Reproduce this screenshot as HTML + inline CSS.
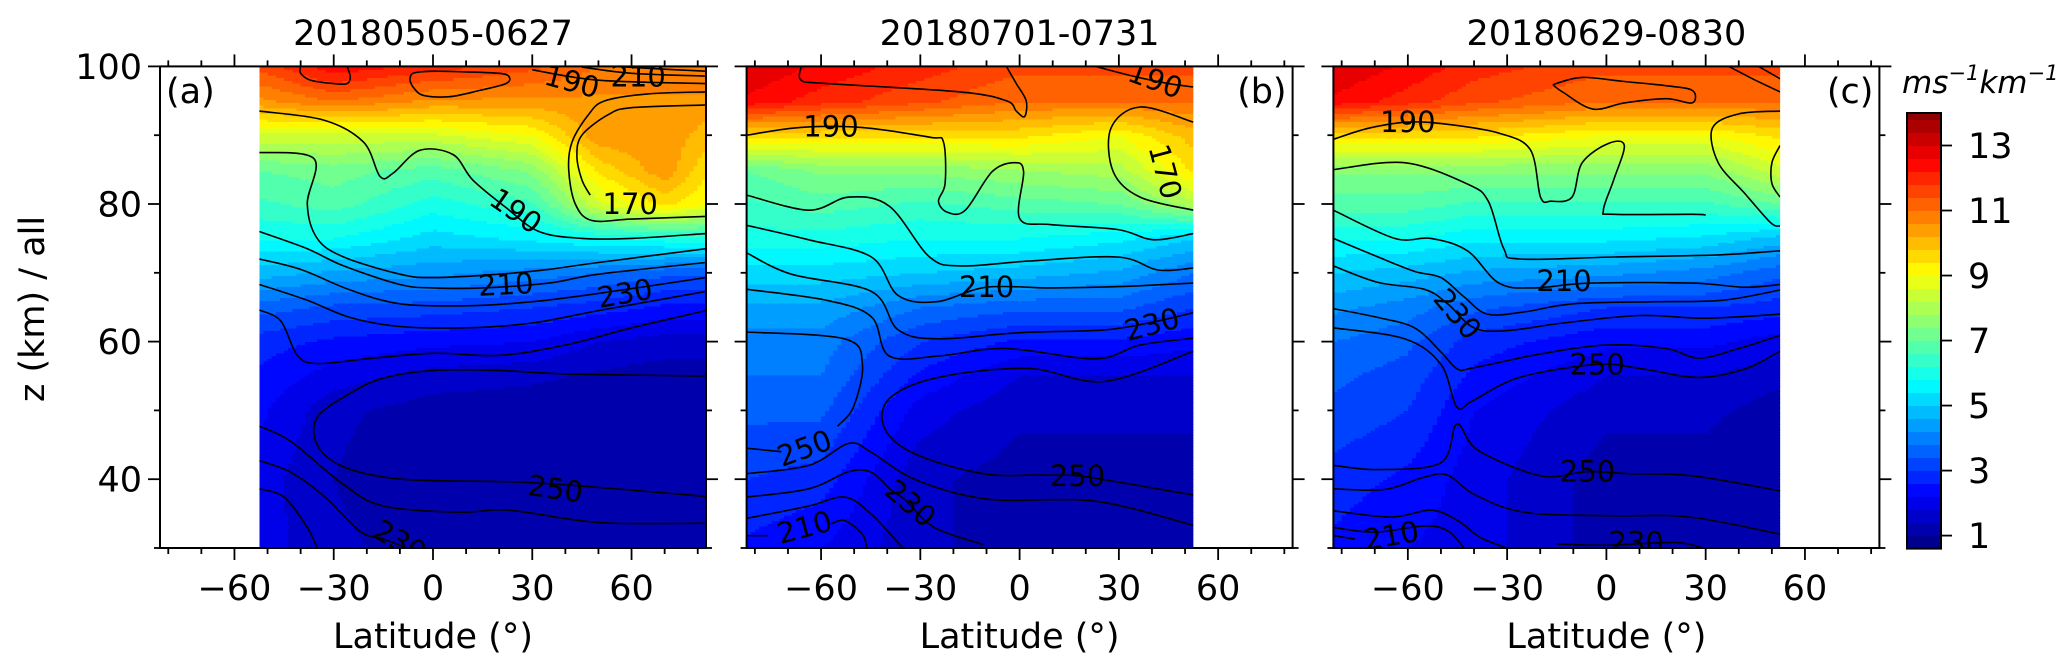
<!DOCTYPE html>
<html><head><meta charset="utf-8"><style>
body{margin:0;background:#fff}
svg{display:block;font-family:"DejaVu Sans","Liberation Sans",sans-serif}
</style></head><body>
<svg id="fig" xmlns="http://www.w3.org/2000/svg" width="2067" height="672" viewBox="0 0 2067 672">
<rect width="2067" height="672" fill="#fff"/>
<text x="0" y="0" transform="translate(44,309) rotate(-90)" text-anchor="middle" font-size="35">z (km) / all</text>
<g id="panels"></g>
<g id="cbar"></g>
<text x="1902" y="93" font-size="31" font-style="italic">ms<tspan font-size="21" dy="-13">−1</tspan><tspan dy="13">km</tspan><tspan font-size="21" dy="-13">−1</tspan></text>
</svg>
<script>
// ---------- data ----------
const altNodes = [30,40,50,55,60,65,70,75,80,85,90,95,100];
const latNodesA = [-52.5,-30,0,30,50,70,82.5];
const fieldA = [
 [2.0,2.0,2.3,2.5,2.8,3.6,4.8,5.8,6.5,7.0,8.5,10.5,11.5],
 [1.5,1.4,1.5,2.0,2.5,3.3,4.5,5.8,6.8,7.2,8.5,11,12.5],
 [1.2,1.0,1.2,1.6,2.3,3.2,4.3,5.2,6.0,6.8,8.5,10.5,12],
 [1.2,1.0,1.1,1.5,2.2,3.0,4.0,5.5,6.5,7.5,9,10.5,11.5],
 [1.0,1.0,1.0,1.3,1.8,2.8,3.8,5.8,8.5,9.5,10.5,10.5,11],
 [1.0,1.0,1.0,1.2,1.6,2.5,3.5,6.0,9.5,10.5,10.5,10.5,11],
 [1.0,1.0,1.0,1.2,1.6,2.5,3.5,6.0,9,9.5,10,10.5,11]];
const latNodesB = [-82.5,-60,-30,0,30,52.5];
const fieldB = [
 [2.5,3,3.5,3.8,4.0,4.5,5.2,6,6.5,7,9.5,12.5,13],
 [2.2,2.8,3.5,3.8,4,4.5,5.2,6,6.8,7.5,9.5,12,12.5],
 [1.5,1.5,2,2.5,3,3.8,5,5.8,6.5,7.5,9.5,11.5,12],
 [1.2,1.2,1.5,1.8,2.5,3.5,4.8,5.8,6.8,7.8,9.5,11,11.5],
 [1.2,1.2,1.5,1.8,2.5,3.5,4.5,5.5,7,8,9,11,11.5],
 [1,1.2,1.5,1.8,2.3,3,3.8,5,8,9.5,10,11,11.5]];
const latNodesC = [-82.5,-60,-40,0,30,52.5];
const fieldC = [
 [2.5,2.8,3.3,3.5,3.8,4.3,5,5.8,6.8,7.5,9.5,12.5,13],
 [2.2,2.5,3,3.2,3.5,4,4.8,5.8,6.8,7.5,9.5,12,12.5],
 [2,2,2.2,2.5,2.8,3.5,4.5,5.5,6.5,7.5,9.5,11.5,12],
 [1.2,1.2,1.5,1.8,2.3,3,4.3,5.5,6.5,7.5,9,11,11.5],
 [1.2,1.2,1.5,1.8,2.3,3,4,5.3,6.5,7.5,9,11,11.5],
 [1,1,1.2,1.5,2,2.8,3.5,4.8,7,8.5,9.5,11,11.5]];

const contoursA = [
 [[-52.5,93.5],[-33,92.2],[-21,89],[-16,84],[-12,84.5],[-4,87.8],[6,87.2],[12,83.5],[22,79.5],[32,76],[45,75],[60,75],[82.5,75.7]],
 [[-52.5,87.5],[-36,86.6],[-38,80],[-35,75],[-27,72.3],[-10,69.8],[0,69.3],[20,69.8],[35,70.5],[50,71.5],[82.5,73.5]],
 [[-52.5,76],[-38,73.5],[-27,71],[-10,68.3],[0,67.8],[15,67.8],[35,68.5],[50,69.8],[82.5,71.5]],
 [[-52.5,72],[-40,70.5],[-25,67.5],[-10,65.5],[10,65.2],[30,65.8],[50,67],[82.5,69.3]],
 [[-52.5,68.3],[-38,66],[-25,63.5],[-10,62.2],[10,62],[30,62.7],[50,64.5],[82.5,67.3]],
 [[-52.5,64.6],[-46,63],[-41,58],[-35,56.8],[-20,57.5],[0,58.3],[20,58],[40,59.5],[60,62],[82.5,64.5]],
 [[82.5,55],[40,55.3],[20,55.8],[0,55.8],[-15,54.7],[-25,52.5],[-35,49],[-35,45],[-28,42],[-15,40.3],[0,39.8],[25,39.6],[45,39],[82.5,37.5]],
 [[-52.5,47.7],[-43,45.5],[-27,39.2],[-15,36.1],[8,35.2],[23,35.5],[50,33.7],[82.5,33.6]],
 [[-52.5,42.7],[-43,41],[-32.6,37.4],[-22,32.4],[-15,31.3],[-8,30]],
 [[-52.5,38.6],[-45,37.4],[-38,33],[-35,30]],
 [[82.5,78.2],[60,77.8],[48,77.6],[43,80],[41,85],[42,89],[47,93],[52,95],[65,96],[82.5,96.3]],
 [[82.5,94.4],[60,94],[53,93],[45,90],[43.5,87],[45,83.5],[47.5,81.3]],
 [[30,99.5],[50,98],[82.5,97.5]],
 [[45,99.9],[60,99],[82.5,98.6]],
 [[55,100],[70,99.6],[82.5,99.3]],
 [[-40,100],[-40,99],[-37,98],[-30,97.5],[-26,97.5],[-25,98.5],[-26,100]],
 [[-7,98],[-6,97],[-3,95.8],[5,95.6],[14,96.5],[22,97.5],[23,98.5],[20,99],[10,99.2],[0,99.3],[-6,99],[-7,98]]];
const labelTextA = ["190","210","230","250","230","170","190","210"];
const labelPosA = [[25,79],[22,68.3],[58,67],[37,38.6],[-10,31],[59.6,80],[42,97.8],[62,98.5]];
const labelRotA = [35,-3,-10,8,30,0,15,0];

const contoursB = [
 [[-66,100],[-66,98],[-58,97.5],[-18,96.3],[-4,95],[-1,93.5],[1.5,92.7],[2,95],[-1,97.5],[-4,100]],
 [[-82.5,90],[-69,91],[-57,91.3],[-45,91],[-27,89.7],[-23,89],[-22.5,83],[-24.5,80.4],[-21.8,78.8],[-16.4,79.1],[-8.3,84.7],[-1.5,86],[1.2,84.7],[0,77.9],[9.3,77],[29.6,76.3],[40.5,74.8],[52.5,75.7]],
 [[52.5,91.9],[36.4,94.1],[27.6,91],[28.3,84.7],[36.4,81],[52.5,79.1]],
 [[22.9,100],[35,98.5],[45,97.5],[52.5,97]],
 [[-82.5,81.3],[-63.7,79.1],[-51.6,81],[-39.4,79.7],[-27.2,72.3],[-17.7,71],[2.6,71.7],[29.6,72.3],[41.8,70.4],[52.5,70.7]],
 [[-82.5,76.9],[-63.7,74.8],[-44.8,72.3],[-36.7,66.7],[-25,65.8],[-10,67.9],[10,67.8],[30,68],[52.5,68.5]],
 [[-82.5,72.9],[-69,69.8],[-44.8,67.3],[-36.7,61.7],[-24.5,60.4],[0,61.3],[25.6,61.7],[40,62.8],[52.5,64.2]],
 [[-82.5,67.6],[-58.3,66],[-44.8,63.6],[-39.4,57.9],[-24.5,57.9],[-4.2,59],[22.9,57.5],[36.4,59.5],[52.5,60.5]],
 [[-82.5,61.4],[-52.9,60.4],[-47.5,56.7],[-50.2,50.5],[-55,47.7]],
 [[52.5,58.6],[25.6,54.2],[2.6,56.1],[-24.5,54.8],[-39.4,51.7],[-40.7,47.3],[-31.3,43.6],[-11,40.8],[5.3,40.6],[17.5,40.5],[29.6,39.6],[52.5,37.7]],
 [[-82.5,44.5],[-72,44]],
 [[-82.5,40.8],[-63.7,42],[-51.6,45.2],[-44.8,43.9],[-31.3,39.9],[-9.6,37.1],[22.9,36.8],[52.5,33.3]],
 [[-82.5,37.4],[-63.7,38.6],[-51.6,41.1],[-44.8,41],[-39,38.5],[-34.6,37],[-25.8,33],[-11,30.5]],
 [[-82.5,34.3],[-63.7,36.1],[-52.9,37.4],[-44.8,34.9],[-35.3,30]],
 [[-82.5,31.8],[-76,31.8]],
 [[-57,33.5],[-52.9,34],[-47.5,32],[-46.2,30]]];
const labelTextB = ["190","210","230","250","250","230","210","170","190"];
const labelPosB = [[-57,91.3],[-10,67.9],[40,62.5],[-65,44.5],[17.5,40.5],[-33,36.5],[-65,33],[44,84.7],[41,98]];
const labelRotB = [0,0,-15,-20,0,40,-15,75,20];

const contoursC = [
 [[-15.9,97.2],[-13,96.2],[-4.1,93.8],[5.4,94.7],[18,95.3],[25.9,94.7],[26,96.5],[18,97.2],[5.4,97.8],[-7.3,98.4],[-15.2,97.5],[-15.9,97.2]],
 [[37,100],[45,98],[52.5,96.3]],
 [[46,100],[52.5,98.2]],
 [[-82.5,89.4],[-72,91],[-60,91.9],[-48.3,91.6],[-32.5,90.3],[-23,87.9],[-19.9,81],[-16.7,80.4],[-10.4,81],[-7.3,86],[0.6,88.8],[5.4,88.5],[2.2,83.5],[-0.9,79.1],[2.2,78.5],[25.9,78.5],[30,78.4]],
 [[52.5,93.5],[40,93.1],[32,91],[33.8,86],[41.7,81.6],[49.6,77.3],[52.5,76.8]],
 [[52.5,88.5],[50,86],[50,83],[52.5,81]],
 [[-82.5,85],[-61,86],[-42,82.9],[-35.7,80.4],[-31,73.5],[-26.2,72],[2.2,72.3],[33.8,72.6],[52.5,73.2]],
 [[-82.5,79.1],[-64,75],[-53,75],[-42,73.2],[-32.5,68.5],[-22,67.8],[-5,68.5],[25.9,68.5],[41.7,67.9],[52.5,68.3]],
 [[-82.5,75],[-69,72.3],[-58,70.2],[-50,69.3],[-43,66.5],[-36,64],[-25,64.3],[-10,65.5],[15,65.8],[35,66],[52.5,67.5]],
 [[-82.5,71],[-69,68.6],[-55,67.6],[-48,65.5],[-40,62],[-30,61.6],[-13,62.7],[10,63.8],[30,63.4],[52.5,64]],
 [[-82.5,64.8],[-69,63.5],[-58,62],[-50,58.5],[-45,56],[-40,56.2],[-20,58.2],[0,59.5],[18,59],[28,57.6],[40,59],[52.5,60.9]],
 [[-82.5,62],[-61,60.4],[-50,56.7],[-45.2,50.5],[-40.4,51.4],[-26.2,54.8],[-2.8,56.7],[10,56.1],[27.5,54.8],[41.7,56],[52.5,58.6]],
 [[-82.5,42],[-69,41.4],[-50,42.4],[-45.2,48],[-38.8,44.2],[-19.9,40.5],[-5.7,41.1],[7,40.8],[25.9,40.5],[52.5,38.3]],
 [[-82.5,38.6],[-67,38.5],[-55,40.3],[-48,40.6],[-40,37.8],[-25,35.2],[0,34.7],[25,34.5],[52.5,32]],
 [[-82.5,35.4],[-65,34.5],[-53,35.5],[-45,34],[-38,31.5],[-30,30]],
 [[-82.5,33],[-70,32.3],[-55,33.2],[-48,32.5],[-43,30]],
 [[-82.5,31.8],[-76,31.3]],
 [[-15,30.6],[0,30.4],[21,30.8],[29,30]]];
const labelTextC = ["190","210","230","250","250","210","230"];
const labelPosC = [[-60,91.9],[-12.8,68.8],[-45,64],[-2.8,56.7],[-5.7,41.1],[-65,31.8],[9,30.8]];
const labelRotC = [0,0,50,0,0,-10,0];

const panelTitles = ["20180505-0627","20180701-0731","20180629-0830"];
const panelTags = ["(a)","(b)","(c)"];
const dataLatRanges = [[-52.5,82.5],[-82.5,52.5],[-82.5,52.5]];
const xTickLabels = [-60,-30,0,30,60];
const yTickLabels = [40,60,80,100];
const cbarTicks = [1,3,5,7,9,11,13];
const cbarMin = 0.6, cbarMax = 14, cbarStep = 0.4;

// ---------- helpers ----------
const NS="http://www.w3.org/2000/svg";
const svg=document.getElementById('fig');
function mk(tag,attrs,parent){const e=document.createElementNS(NS,tag);for(const k in attrs)e.setAttribute(k,attrs[k]);if(parent)parent.appendChild(e);return e;}
function jet(t){t=Math.max(0,Math.min(1,t));const c=v=>Math.round(255*Math.max(0,Math.min(1,v)));
 return `rgb(${c(1.5-Math.abs(4*t-3))},${c(1.5-Math.abs(4*t-2))},${c(1.5-Math.abs(4*t-1))})`;}
const NB=Math.ceil((cbarMax-cbarMin)/cbarStep-1e-9);
function bandColor(v){let b=Math.floor((v-cbarMin)/cbarStep);b=Math.max(0,Math.min(NB-1,b));
 return jet((b+0.5)/NB);}
function interp1(xs,x){let i=0;while(i<xs.length-2&&x>xs[i+1])i++;let f=(x-xs[i])/(xs[i+1]-xs[i]);f=Math.max(0,Math.min(1,f));return [i,f];}
function sample(lats,field,lat,alt){const [i,fi]=interp1(lats,lat);const [j,fj]=interp1(altNodes,alt);
 const a=field[i][j]*(1-fj)+field[i][j+1]*fj, b=field[i+1][j]*(1-fj)+field[i+1][j+1]*fj;return a*(1-fi)+b*fi;}
const AX_TOP=66.4, AX_BOT=548, AX_W=546, LAT0=-82.5, LAT1=82.5, ALT0=30, ALT1=100;
const panelLefts=[160,746.6,1333.4];
function smoothPath(pts){if(pts.length<3)return 'M'+pts.map(p=>p.join(',')).join('L');
 let d='M'+pts[0][0].toFixed(1)+','+pts[0][1].toFixed(1);
 for(let i=0;i<pts.length-1;i++){const p0=pts[Math.max(0,i-1)],p1=pts[i],p2=pts[i+1],p3=pts[Math.min(pts.length-1,i+2)];
  const c1=[p1[0]+(p2[0]-p0[0])/6,p1[1]+(p2[1]-p0[1])/6],c2=[p2[0]-(p3[0]-p1[0])/6,p2[1]-(p3[1]-p1[1])/6];
  d+=`C${c1[0].toFixed(1)},${c1[1].toFixed(1)} ${c2[0].toFixed(1)},${c2[1].toFixed(1)} ${p2[0].toFixed(1)},${p2[1].toFixed(1)}`;}
 return d;}

const fields=[[latNodesA,fieldA],[latNodesB,fieldB],[latNodesC,fieldC]];
const contours=[contoursA,contoursB,contoursC];
const labelTexts=[labelTextA,labelTextB,labelTextC];
const labelPos=[labelPosA,labelPosB,labelPosC];
const labelRot=[labelRotA,labelRotB,labelRotC];
const panelsG=document.getElementById('panels');

for(let p=0;p<3;p++){
 const L=panelLefts[p];
 const X=lat=>L+(lat-LAT0)/(LAT1-LAT0)*AX_W;
 const Y=alt=>AX_TOP+(ALT1-alt)/(ALT1-ALT0)*(AX_BOT-AX_TOP);
 const g=mk('g',{},panelsG);
 
 
 const clipId='clip'+p;
 const cp=mk('clipPath',{id:clipId},g);
 const [la0,la1]=dataLatRanges[p];
 mk('rect',{x:X(la0),y:Y(ALT1),width:X(la1)-X(la0),height:Y(ALT0)-Y(ALT1)},cp);
 const fg=mk('g',{'clip-path':`url(#${clipId})`,'shape-rendering':'crispEdges'},g);
 
 
 const [lats,field]=fields[p];
 const dLat=1.25,dAlt=0.4;
 for(let alt=ALT0;alt<ALT1;alt+=dAlt){
  let runStart=la0,runCol=null;
  for(let lat=la0;lat<=la1+1e-6;lat+=dLat){
   const col=lat<la1-1e-6?bandColor(sample(lats,field,lat+dLat/2,alt+dAlt/2)):null;
   if(col!==runCol){
    if(runCol){mk('rect',{x:X(runStart).toFixed(1),y:Y(alt+dAlt).toFixed(1),width:(X(lat)-X(runStart)+0.6).toFixed(1),height:(Y(alt)-Y(alt+dAlt)+0.6).toFixed(1),fill:runCol},fg);}
    runStart=lat;runCol=col;}
  }
 }
 const cg=mk('g',{'clip-path':`url(#${clipId})`,fill:'none',stroke:'#000','stroke-width':1.6,'stroke-linejoin':'round'},g);
 
 
 contours[p].forEach((line,i)=>{
  const path=mk('path',{d:smoothPath(line.map(q=>[X(q[0]),Y(q[1])]))},cg);
  
  
 });
 const lg=mk('g',{'clip-path':`url(#${clipId})`},g);
 labelTexts[p].forEach((t,i)=>{
  const [la,al]=labelPos[p][i];
  const tx=mk('text',{x:X(la),y:Y(al),'font-size':29,'text-anchor':'middle','dominant-baseline':'central',transform:`rotate(${labelRot[p][i]},${X(la)},${Y(al)})`},lg);
  tx.textContent=t;
  
  
 });
 const sp=mk('rect',{x:L,y:AX_TOP,width:AX_W,height:AX_BOT-AX_TOP,fill:'none',stroke:'#000','stroke-width':2},g);
 
 
 const tg=mk('g',{stroke:'#000','stroke-width':1.8},g);
 for(let lat=-80;lat<=80;lat+=10){
  const major=lat%30===0, len=major?12:6, x=X(lat);
  mk('line',{x1:x,x2:x,y1:AX_BOT,y2:AX_BOT+len},tg);
  mk('line',{x1:x,x2:x,y1:AX_TOP,y2:AX_TOP-len},tg);
 }
 for(let alt=30;alt<=100;alt+=10){
  const major=alt%20===0, len=major?12:6, y=Y(alt);
  mk('line',{x1:L,x2:L-len,y1:y,y2:y},tg);
  mk('line',{x1:L+AX_W,x2:L+AX_W+len,y1:y,y2:y},tg);
 }
 xTickLabels.forEach(v=>{
  const t=mk('text',{x:X(v),y:600,'font-size':35,'text-anchor':'middle'},g);
  t.textContent=v<0?'−'+Math.abs(v):String(v);
  
  
 });
 if(p===0){yTickLabels.forEach(v=>{
  const t=mk('text',{x:142,y:Y(v)+12.5,'font-size':35,'text-anchor':'end'},g);
  t.textContent=String(v);
  
  
 });}
 const xl=mk('text',{x:L+AX_W/2,y:648,'font-size':35,'text-anchor':'middle'},g);
 xl.textContent='Latitude (°)';
 
 
 const ti=mk('text',{x:L+AX_W/2,y:45,'font-size':35,'text-anchor':'middle'},g);
 ti.textContent=panelTitles[p];
 
 
 const tag=mk('text',{x:p===0?L+6:L+AX_W-6,y:103,'font-size':35,'text-anchor':p===0?'start':'end'},g);
 tag.textContent=panelTags[p];
 
 
}

const cb=document.getElementById('cbar');
const CBX=1907,CBW=34,CBT=113,CBB=548.6;
const CY=v=>CBB-(v-cbarMin)/(cbarMax-cbarMin)*(CBB-CBT);
for(let b=0;b<NB;b++){
 const v0=cbarMin+b*cbarStep,v1=Math.min(cbarMax,v0+cbarStep);
 const r=mk('rect',{x:CBX,y:CY(v1).toFixed(1),width:CBW,height:(CY(v0)-CY(v1)+0.6).toFixed(1),fill:jet((b+0.5)/NB),'shape-rendering':'crispEdges'},cb);
 
 
}
mk('rect',{x:CBX,y:CBT,width:CBW,height:CBB-CBT,fill:'none',stroke:'#000','stroke-width':2},cb);
cbarTicks.forEach(v=>{
 mk('line',{x1:CBX+CBW,x2:CBX+CBW+11,y1:CY(v),y2:CY(v),stroke:'#000','stroke-width':1.8},cb);
 const t=mk('text',{x:1968,y:CY(v)+12.5,'font-size':35},cb);
 t.textContent=String(v);
 
 
});
</script>
</body></html>
